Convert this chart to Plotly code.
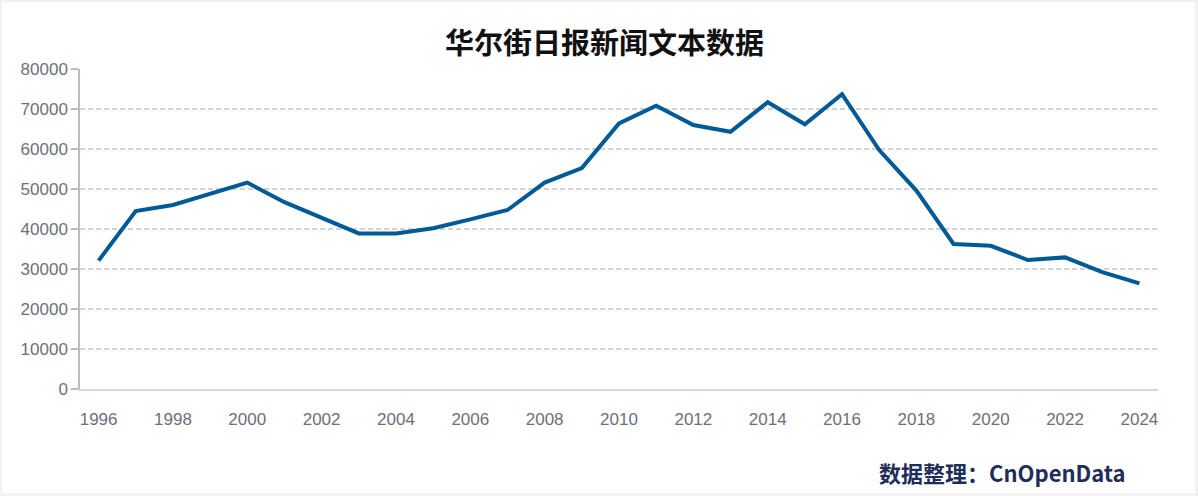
"""Line chart: number of WSJ news texts per year (CnOpenData)."""

import plotly.graph_objects as go

# data
years = list(range(1996, 2025))
counts = [
    32100, 44500, 46000, 48700, 51600, 46700, 42900, 38900, 38900, 40200,
    42400, 44750, 51600, 55250, 66400, 70800, 66000, 64300, 71700, 66200,
    73700, 59750, 49600, 36250, 35800, 32250, 32900, 29200, 26400,
]
year_ticks = list(range(1996, 2025, 2))
y_ticks = list(range(0, 80001, 10000))

title_text = "华尔街日报新闻文本数据"
source_text = "数据整理：CnOpenData"

W, H = 1198, 496
left, right, top, bottom = 80, 40, 69, 107
plot_w = W - left - right
plot_h = H - top - bottom


def px_x(p):
    # pixel -> paper x
    return (p - left) / plot_w


def px_y(p):
    # pixel -> paper y
    return (H - bottom - p) / plot_h


label_color = "#6e7079"

fig = go.Figure()
fig.add_trace(
    go.Scatter(
        x=years,
        y=counts,
        mode="lines",
        line=dict(color="#005a96", width=4),
        showlegend=False,
        hovertemplate="%{x}: %{y}<extra></extra>",
    )
)

fig.update_layout(
    width=W,
    height=H,
    margin=dict(l=left, r=right, t=top, b=bottom),
    paper_bgcolor="#f2f2f2",
    plot_bgcolor="rgba(0,0,0,0)",
    font=dict(family="Liberation Sans, Arial, sans-serif", size=17, color=label_color),
    shapes=[
        # white card inside the light grey page border
        dict(
            type="rect",
            xref="paper",
            yref="paper",
            x0=px_x(2),
            x1=px_x(1195),
            y0=px_y(493),
            y1=px_y(2),
            fillcolor="white",
            line=dict(width=0),
            layer="below",
        )
    ],
    annotations=[
        dict(
            text=title_text,
            xref="paper",
            yref="paper",
            x=px_x(604),
            y=px_y(41),
            xanchor="center",
            yanchor="middle",
            showarrow=False,
            font=dict(family="Noto Sans CJK SC", size=29, color="#111111", weight="bold"),
        ),
        dict(
            text=source_text,
            xref="paper",
            yref="paper",
            x=px_x(1128),
            y=px_y(472),
            xanchor="right",
            yanchor="middle",
            showarrow=False,
            font=dict(family="Noto Sans CJK SC", size=22, color="#1f2d5a", weight="bold"),
        ),
    ],
)

fig.update_xaxes(
    range=[1995.5, 2024.5],
    tickvals=year_ticks,
    ticktext=[str(y) for y in year_ticks],
    showgrid=False,
    zeroline=False,
    showline=True,
    linecolor="#d6d6d6",
    linewidth=2,
    ticks="",
    ticklabelstandoff=14,
    tickfont=dict(size=17, color=label_color),
)
fig.update_yaxes(
    range=[0, 80000],
    tickvals=y_ticks,
    ticktext=[str(v) for v in y_ticks],
    showgrid=True,
    gridcolor="#d3d3d3",
    gridwidth=1.5,
    griddash="5px,3px",
    zeroline=False,
    showline=True,
    linecolor="#bcbcbc",
    linewidth=1.5,
    ticks="outside",
    ticklen=7,
    tickcolor="#bcbcbc",
    tickwidth=1.5,
    tickfont=dict(size=17, color=label_color),
)

# drop the default 8px body margin so the figure fills the window
fig.write_html(
    "out.html",
    config={"displayModeBar": False},
    post_script="document.body.style.margin='0px';",
)
